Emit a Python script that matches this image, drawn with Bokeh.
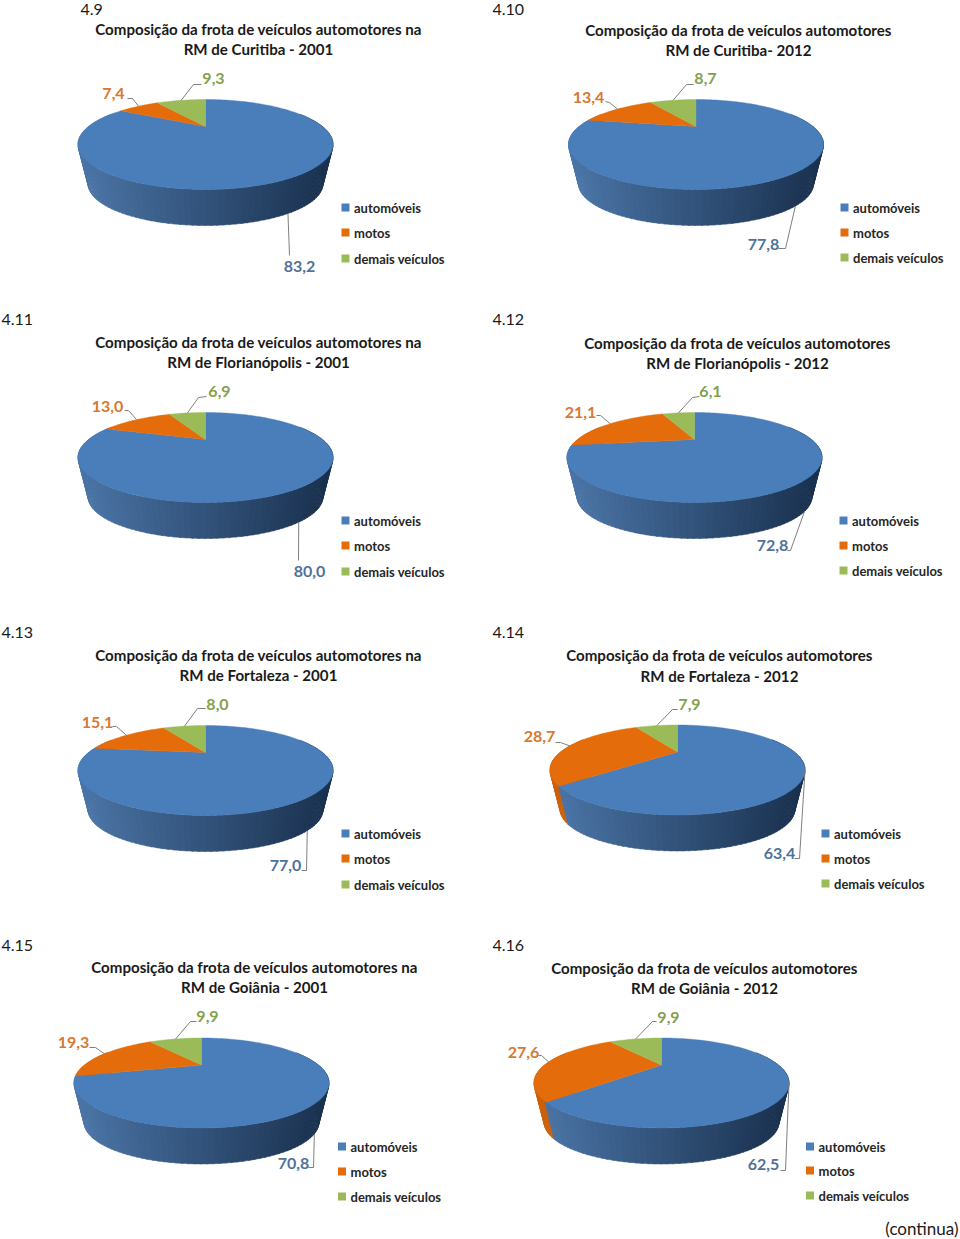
import math
from bokeh.plotting import figure
from bokeh.layouts import column, row
from bokeh.core.properties import value
from bokeh.embed import file_html
from bokeh.resources import INLINE

# ---- data ----
chart_ids = ["4.9", "4.10", "4.11", "4.12", "4.13", "4.14", "4.15", "4.16"]
automoveis = [83.2, 77.8, 80.0, 72.8, 77.0, 63.4, 70.8, 62.5]
motos = [7.4, 13.4, 13.0, 21.1, 15.1, 28.7, 19.3, 27.6]
demais = [9.3, 8.7, 6.9, 6.1, 8.0, 7.9, 9.9, 9.9]
series_names = ["automóveis", "motos", "demais veículos"]
title_line1 = ["Composição da frota de veículos automotores na", "Composição da frota de veículos automotores",
               "Composição da frota de veículos automotores na", "Composição da frota de veículos automotores",
               "Composição da frota de veículos automotores na", "Composição da frota de veículos automotores",
               "Composição da frota de veículos automotores na", "Composição da frota de veículos automotores"]
title_line2 = ["RM de Curitiba - 2001", "RM de Curitiba- 2012", "RM de Florianópolis - 2001", "RM de Florianópolis - 2012",
               "RM de Fortaleza - 2001", "RM de Fortaleza - 2012", "RM de Goiânia - 2001", "RM de Goiânia - 2012"]

# ---- layout (page pixels) ----
apex = [(205, 126), (695.5, 126), (205, 439), (694, 439), (205, 752), (677, 751.5), (201, 1064.5), (661, 1064.5)]
id_pos = [(80, 9), (492, 9), (1, 319), (492, 319), (1, 632), (492, 632), (1, 945), (492, 945)]
title_pos = [(258, 28, 48), (738, 29, 49), (258, 341, 361), (737, 342, 362),
             (258, 654, 674), (719, 654, 675), (254, 966, 986), (704, 967, 987)]
legend_x = [345, 844, 345, 843, 345, 825, 341.5, 809.5]
legend_y = [(207, 232, 258), (207, 232, 257), (520, 545, 571), (520, 545, 570),
            (833, 858, 884), (833, 858, 883), (1146, 1171, 1196), (1146, 1170, 1195)]
lab_auto = [(299, 266), (763, 244), (309, 571), (772, 545), (285, 865), (779, 853), (293, 1163), (763, 1164)]
lab_motos = [(113, 93), (588, 97), (107, 406), (580, 412), (97, 722), (539, 736), (73, 1042), (523, 1052)]
lab_demais = [(213, 78), (705, 78), (219, 391), (710, 391), (217, 704), (689, 704), (207, 1016), (668, 1017)]
elbow_auto = [[(289, 255)], [(785, 248), (778, 248)], [(298, 560)], [(790, 550), (787, 550)],
              [(306, 870), (301, 870)], [(799, 858), (794, 858)], [(313, 1167), (308, 1167)], [(785, 1170), (780, 1170)]]
elbow_motos = [[(132, 98), (127, 98)], [(609, 102), (605, 101)], [(128, 410), (124, 410)], [(600, 415), (596, 415)],
               [(116, 726), (112, 726)], [(560, 742), (555, 742)], [(95, 1047), (89, 1047)], [(541, 1055), (538, 1055)]]
elbow_demais = [[(193, 84), (201, 84)], [(686, 84), (693, 84)], [(198, 397), (206, 396)], [(692, 397), (699, 396)],
                [(197, 708), (205, 708)], [(672, 709), (677, 709)], [(190, 1021), (196, 1021)], [(652, 1021), (656, 1021)]]
cols = [(0, 480), (480, 480)]
rows = [(0, 300), (300, 313), (613, 313), (926, 313)]

K, S, W = 0.4, 37.8, 116.9      # perspective of the pie's top face
DROP, SHRINK = 41, 0.92         # bottom rim of the wall
FONT = value("Lato")
TOP_COL = ["#4a7ebb", "#e46c0a", "#9bbb59"]
TXT_COL = ["#4f7298", "#d9782f", "#85a04c"]
WALL_L = [(76, 118, 168), (205, 98, 12), (140, 170, 80)]
WALL_R = [(27, 50, 80), (120, 60, 10), (90, 110, 50)]


def proj(ax, ay, deg, bottom=False):
    t = math.radians(deg)
    u, v = math.sin(t), math.cos(t)
    d = 1 + K * v
    s = SHRINK if bottom else 1.0
    return ax + s * W * u / d, ay + (DROP if bottom else 0) - s * S * v / d


def slice_index(deg, edges):
    for i in range(3):
        if deg <= edges[i + 1]:
            return i
    return 2


def build(i, xr, yr):
    p = figure(width=xr[1], height=yr[1], x_range=(xr[0], xr[0] + xr[1]), y_range=(yr[0] + yr[1], yr[0]),
               output_backend="svg", toolbar_location=None, min_border=0, outline_line_color=None)
    p.axis.visible = False
    p.grid.visible = False
    ax, ay = apex[i]
    vals = [automoveis[i], motos[i], demais[i]]
    tot = sum(vals)
    edges = [0.0]
    for v in vals:
        edges.append(edges[-1] + v / tot * 360)

    # side wall: strips from the sides towards the front
    angles = [68 + 2 * n for n in range(112)]
    angles.sort(key=lambda a: -abs(a + 1 - 180))
    xs, ys, cs = [], [], []
    for a in angles:
        a1 = a + 2.4
        p0, p1 = proj(ax, ay, a), proj(ax, ay, a1)
        q0, q1 = proj(ax, ay, a, True), proj(ax, ay, a1, True)
        xs.append([p0[0], p1[0], q1[0], q0[0]])
        ys.append([p0[1], p1[1], q1[1], q0[1]])
        k = slice_index(a + 1, edges)
        f = min(1, max(0, ((p0[0] + q0[0]) / 2 - (ax - 120)) / 240))
        c = tuple(int(WALL_L[k][j] + (WALL_R[k][j] - WALL_L[k][j]) * f) for j in range(3))
        cs.append("#%02x%02x%02x" % c)
    p.patches(xs, ys, fill_color=cs, line_color=cs, line_width=0.5)

    # top face
    xs, ys = [], []
    for k in range(3):
        n = max(4, int((edges[k + 1] - edges[k]) / 2))
        pts = [proj(ax, ay, edges[k] + (edges[k + 1] - edges[k]) * j / n) for j in range(n + 1)]
        xs.append([ax] + [q[0] for q in pts])
        ys.append([ay] + [q[1] for q in pts])
    p.patches(xs, ys, fill_color=TOP_COL, line_color=TOP_COL, line_width=0.4)

    # leader lines, starting from the middle of each slice
    mid = [(edges[k] + edges[k + 1]) / 2 for k in range(3)]
    starts = [proj(ax, ay, mid[0], mid[0] > 120), proj(ax, ay, mid[1]), proj(ax, ay, mid[2])]
    elbows = [elbow_auto[i], elbow_motos[i], elbow_demais[i]]
    lx = [[s[0]] + [e[0] for e in el] for s, el in zip(starts, elbows)]
    ly = [[s[1]] + [e[1] for e in el] for s, el in zip(starts, elbows)]
    p.multi_line(lx, ly, line_color="#7f7f7f", line_width=1)

    # value labels
    labs = [lab_auto[i], lab_motos[i], lab_demais[i]]
    strs = [("%.1f" % v).replace(".", ",") for v in vals]
    p.text([q[0] for q in labs], [q[1] for q in labs], text=strs, text_color=TXT_COL, text_font=FONT,
           text_font_style="bold", text_font_size="16px", text_align="center", text_baseline="middle")

    # legend
    lgx, lgy = legend_x[i], legend_y[i]
    p.scatter([lgx] * 3, list(lgy), marker="square", size=8, fill_color=TOP_COL, line_color=None)
    p.text([lgx + 8.5] * 3, list(lgy), text=series_names, text_color="#262626", text_font=FONT,
           text_font_style="bold", text_font_size="13px", text_align="left", text_baseline="middle")

    # titles and number
    tx, t1, t2 = title_pos[i]
    p.text([tx, tx], [t1, t2], text=[title_line1[i], title_line2[i]], text_color="#1a1a1a", text_font=FONT,
           text_font_style="bold", text_font_size="15.1px", text_align="center", text_baseline="middle")
    p.text([id_pos[i][0]], [id_pos[i][1]], text=[chart_ids[i]], text_color="#1a1a1a", text_font=FONT,
           text_font_size="16px", text_align="left", text_baseline="middle")
    if i == 7:
        p.text([958], [1228], text=["(continua)"], text_color="#1a1a1a", text_font=FONT,
               text_font_size="17px", text_align="right", text_baseline="middle")
    return p


grid = []
for r, yr in enumerate(rows):
    grid.append(row(*[build(r * 2 + c, xr, yr) for c, xr in enumerate(cols)], spacing=0))
page = column(*grid, spacing=0, margin=(0, 0, 0, 0))

open("out.html", "w").write(file_html(page, INLINE))
